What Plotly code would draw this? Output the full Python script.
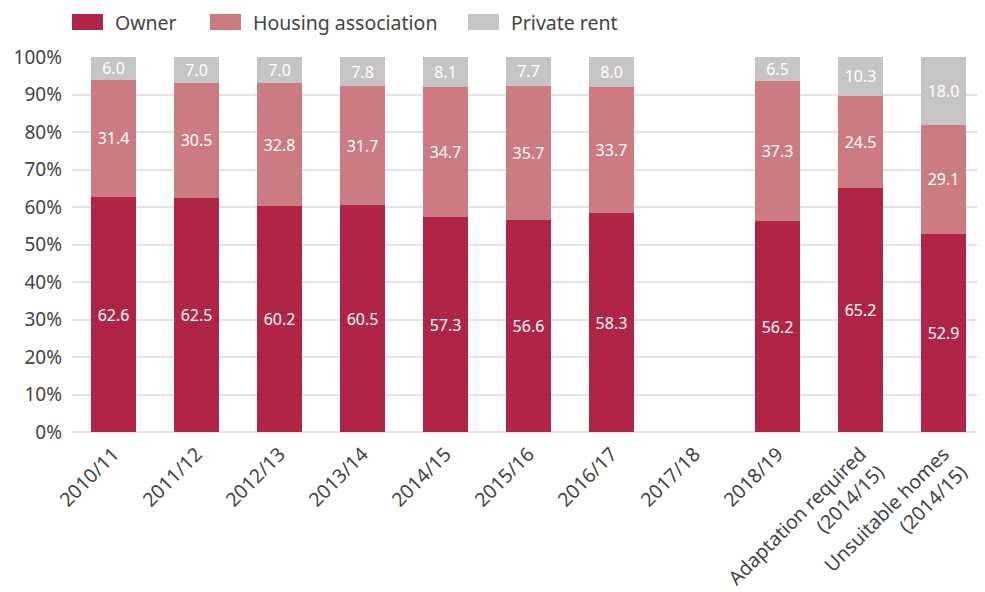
import plotly.graph_objects as go

categories = ["2010/11", "2011/12", "2012/13", "2013/14", "2014/15", "2015/16",
              "2016/17", "2017/18", "2018/19",
              "Adaptation required<br>(2014/15)", "Unsuitable homes<br>(2014/15)"]
owner = [62.6, 62.5, 60.2, 60.5, 57.3, 56.6, 58.3, None, 56.2, 65.2, 52.9]
housing_association = [31.4, 30.5, 32.8, 31.7, 34.7, 35.7, 33.7, None, 37.3, 24.5, 29.1]
private_rent = [6.0, 7.0, 7.0, 7.8, 8.1, 7.7, 8.0, None, 6.5, 10.3, 18.0]
y_ticks = [0, 10, 20, 30, 40, 50, 60, 70, 80, 90, 100]
y_tick_labels = [f"{v}%" for v in y_ticks]

series = [("Owner", owner, "#B02546"),
          ("Housing association", housing_association, "#CC7B82"),
          ("Private rent", private_rent, "#C6C4C5")]

fig = go.Figure()
for name, vals, col in series:
    fig.add_trace(go.Bar(
        name=name, x=categories, y=vals, marker=dict(color=col, line=dict(width=0)),
        text=[("" if v is None else f"{v:.1f}") for v in vals],
        textposition="inside", insidetextanchor="middle", constraintext="none",
        textfont=dict(color="white", size=16, family="Noto Sans"),
        hoverinfo="skip", showlegend=False,
    ))

# page body has an 8px margin, so figure is sized/offset accordingly
W, H = 977, 584
ml, mr, mt, mb = 64, 0, 49, 160
pw, ph = W - ml - mr, H - mt - mb

# custom legend (wide swatches)
legend_x = [64, 202, 460]
legend_y = 14
sw_w, sw_h = 31, 16
shapes, annotations = [], []
for (name, _, col), lx in zip(series, legend_x):
    x0 = (lx - ml) / pw
    x1 = (lx + sw_w - ml) / pw
    y0 = (H - mb - (legend_y + sw_h / 2)) / ph
    y1 = (H - mb - (legend_y - sw_h / 2)) / ph
    shapes.append(dict(type="rect", xref="paper", yref="paper", x0=x0, x1=x1,
                       y0=y0, y1=y1, fillcolor=col, line=dict(width=0)))
    annotations.append(dict(xref="paper", yref="paper", x=(lx + sw_w + 10 - ml) / pw,
                            y=(H - mb - legend_y) / ph, xanchor="left", yanchor="middle",
                            text=name, showarrow=False,
                            font=dict(size=19.5, color="#444444", family="Noto Sans")))

fig.update_layout(
    barmode="stack", bargap=0.45,
    width=W, height=H,
    margin=dict(l=ml, r=mr, t=mt, b=mb),
    paper_bgcolor="white", plot_bgcolor="white",
    font=dict(family="Noto Sans", size=17, color="#444444"),
    showlegend=False, shapes=shapes, annotations=annotations,
)
fig.update_xaxes(tickangle=-45, showgrid=False, showline=False, ticks="",
                 tickfont=dict(size=19.5, color="#444444"), automargin=False,
                 ticklabelshift=0, ticklabelstandoff=6)
fig.update_yaxes(range=[0, 100], tickmode="array", tickvals=y_ticks, ticktext=y_tick_labels,
                 showgrid=True, gridcolor="#E3E3E3", gridwidth=1.5,
                 zeroline=True, zerolinecolor="#E3E3E3", zerolinewidth=2,
                 showline=False, ticks="", tickfont=dict(size=19, color="#444444"),
                 automargin=False, ticklabelstandoff=9)

fig.write_html("out.html")
